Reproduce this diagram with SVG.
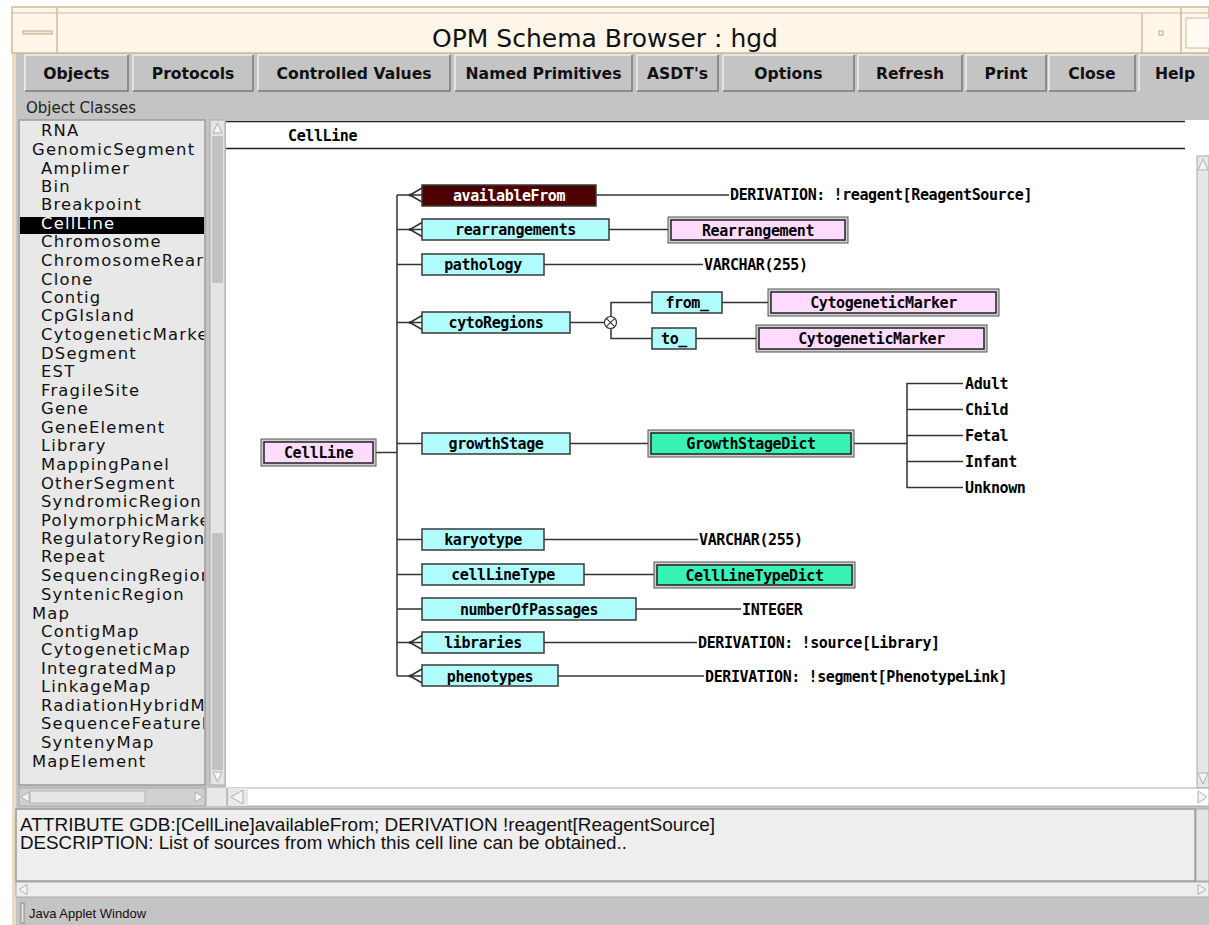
<svg xmlns="http://www.w3.org/2000/svg" width="1209" height="925" viewBox="0 0 1209 925">
<style>
  .ui { font-family: "DejaVu Sans", "Liberation Sans", sans-serif; }
  .btn { font-family: "DejaVu Sans", sans-serif; font-weight: bold; font-size: 15.6px; fill: #111; text-anchor: middle; }
  .list { font-family: "DejaVu Sans", sans-serif; font-size: 16.4px; letter-spacing: 1.2px; fill: #111; }
  .mono { font-family: "DejaVu Sans Mono", "Liberation Mono", monospace; font-weight: bold; font-size: 15px; letter-spacing: -0.4px; fill: #000; }
  .c { text-anchor: middle; }
  .attr { fill: #b0fcfc; stroke: #3a3a3a; stroke-width: 1.5; }
  .frame { fill: #cfcfcf; stroke: #555; stroke-width: 1; }
  .pink { fill: #ffdcff; stroke: #222; stroke-width: 1.5; }
  .green { fill: #38f2b6; stroke: #222; stroke-width: 1.5; }
  .ln { stroke: #333; stroke-width: 1.5; fill: none; }
  .bevel-l { stroke: #f0f0f0; stroke-width: 1.5; fill: none; }
  .bevel-d { stroke: #7a7a7a; stroke-width: 1.5; fill: none; }
  .arrow { fill: #f4f4f4; stroke: #b0b0b0; stroke-width: 1; }
  .desc { font-family: "Liberation Sans", Arial, sans-serif; font-size: 17.5px; fill: #111; }
</style>
<defs>
  <clipPath id="listClip"><rect x="20" y="121" width="184" height="663"/></clipPath>
  <!-- crow's foot (many-valued attribute) drawn from the bus to a box edge -->
  <g id="crow">
    <path d="M0,0 H25 M13,0 L25,-7 M13,0 L25,7" stroke="#333" stroke-width="1.5" fill="none"/>
    <circle cx="13" cy="0" r="1.5" fill="#333"/>
  </g>
  <path id="plain" d="M0,0 H25" stroke="#333" stroke-width="1.5" fill="none"/>
</defs>

<!-- canvas and window body -->
<rect x="0" y="0" width="1209" height="925" fill="#ffffff"/>
<rect x="12" y="7" width="1197" height="918" fill="#c4c4c4"/>
<rect x="12" y="7" width="4" height="918" fill="#eadcc4"/>

<!-- title bar -->
<g id="titlebar">
  <rect x="12" y="7" width="1197" height="46" fill="#fff6e9" stroke="#cbbb9f" stroke-width="1.5"/>
  <line x1="12" y1="13" x2="1209" y2="13" stroke="#cbbb9f" stroke-width="1"/>
  <line x1="57" y1="7" x2="57" y2="53" stroke="#cbbb9f" stroke-width="1.5"/>
  <rect x="23" y="31" width="29" height="3" fill="#f4ead8" stroke="#b8a888" stroke-width="1"/>
  <line x1="1142" y1="13" x2="1142" y2="53" stroke="#cbbb9f" stroke-width="1.5"/>
  <line x1="1181" y1="7" x2="1181" y2="53" stroke="#cbbb9f" stroke-width="1.5"/>
  <rect x="1159" y="31" width="4" height="4" fill="none" stroke="#b8a888" stroke-width="1"/>
  <rect x="1186" y="18" width="30" height="30" fill="#fffaf2" stroke="#cbbb9f" stroke-width="1"/>
  <text x="605" y="47" class="ui" font-size="25" text-anchor="middle" fill="#111">OPM Schema Browser : hgd</text>
</g>

<!-- toolbar buttons -->
<g id="toolbar">
  <g id="btn-objects"><rect x="25" y="55" width="103" height="36" fill="#c4c4c4"/><path class="bevel-l" d="M25,91 V55 H128"/><path class="bevel-d" d="M128,55 V91 H25"/><text x="76.5" y="79" class="btn">Objects</text></g>
  <g id="btn-protocols"><rect x="133" y="55" width="120" height="36" fill="#c4c4c4"/><path class="bevel-l" d="M133,91 V55 H253"/><path class="bevel-d" d="M253,55 V91 H133"/><text x="193" y="79" class="btn">Protocols</text></g>
  <g id="btn-controlled"><rect x="258" y="55" width="192" height="36" fill="#c4c4c4"/><path class="bevel-l" d="M258,91 V55 H450"/><path class="bevel-d" d="M450,55 V91 H258"/><text x="354" y="79" class="btn">Controlled Values</text></g>
  <g id="btn-named"><rect x="455" y="55" width="177" height="36" fill="#c4c4c4"/><path class="bevel-l" d="M455,91 V55 H632"/><path class="bevel-d" d="M632,55 V91 H455"/><text x="543.5" y="79" class="btn">Named Primitives</text></g>
  <g id="btn-asdt"><rect x="637" y="55" width="81" height="36" fill="#c4c4c4"/><path class="bevel-l" d="M637,91 V55 H718"/><path class="bevel-d" d="M718,55 V91 H637"/><text x="677.5" y="79" class="btn">ASDT's</text></g>
  <g id="btn-options"><rect x="723" y="55" width="131" height="36" fill="#c4c4c4"/><path class="bevel-l" d="M723,91 V55 H854"/><path class="bevel-d" d="M854,55 V91 H723"/><text x="788.5" y="79" class="btn">Options</text></g>
  <g id="btn-refresh"><rect x="858" y="55" width="104" height="36" fill="#c4c4c4"/><path class="bevel-l" d="M858,91 V55 H962"/><path class="bevel-d" d="M962,55 V91 H858"/><text x="910" y="79" class="btn">Refresh</text></g>
  <g id="btn-print"><rect x="966" y="55" width="80" height="36" fill="#c4c4c4"/><path class="bevel-l" d="M966,91 V55 H1046"/><path class="bevel-d" d="M1046,55 V91 H966"/><text x="1006" y="79" class="btn">Print</text></g>
  <g id="btn-close"><rect x="1049" y="55" width="86" height="36" fill="#c4c4c4"/><path class="bevel-l" d="M1049,91 V55 H1135"/><path class="bevel-d" d="M1135,55 V91 H1049"/><text x="1092" y="79" class="btn">Close</text></g>
  <g id="btn-help"><rect x="1139" y="55" width="72" height="36" fill="#c4c4c4"/><path class="bevel-l" d="M1139,91 V55 H1211"/><text x="1175" y="79" class="btn">Help</text></g>
</g>

<text x="26" y="113" class="ui" font-size="15" fill="#222">Object Classes</text>

<!-- class list -->
<g id="class-list">
  <rect x="19" y="120" width="186" height="665" fill="#e8e8e8" stroke="#9a9a9a" stroke-width="1.5"/>
  <rect x="20" y="217" width="184" height="17" fill="#000"/>
  <g clip-path="url(#listClip)" class="list">
    <text x="41" y="136">RNA</text>
    <text x="32" y="155">GenomicSegment</text>
    <text x="41" y="174">Amplimer</text>
    <text x="41" y="192">Bin</text>
    <text x="41" y="210">Breakpoint</text>
    <text x="41" y="229" fill="#fff">CellLine</text>
    <text x="41" y="247">Chromosome</text>
    <text x="41" y="266">ChromosomeRearrangement</text>
    <text x="41" y="285">Clone</text>
    <text x="41" y="303">Contig</text>
    <text x="41" y="321">CpGIsland</text>
    <text x="41" y="340">CytogeneticMarker</text>
    <text x="41" y="359">DSegment</text>
    <text x="41" y="377">EST</text>
    <text x="41" y="396">FragileSite</text>
    <text x="41" y="414">Gene</text>
    <text x="41" y="433">GeneElement</text>
    <text x="41" y="451">Library</text>
    <text x="41" y="470">MappingPanel</text>
    <text x="41" y="489">OtherSegment</text>
    <text x="41" y="507">SyndromicRegion</text>
    <text x="41" y="526">PolymorphicMarker</text>
    <text x="41" y="544">RegulatoryRegion</text>
    <text x="41" y="562">Repeat</text>
    <text x="41" y="581">SequencingRegion</text>
    <text x="41" y="600">SyntenicRegion</text>
    <text x="32" y="619">Map</text>
    <text x="41" y="637">ContigMap</text>
    <text x="41" y="655">CytogeneticMap</text>
    <text x="41" y="674">IntegratedMap</text>
    <text x="41" y="692">LinkageMap</text>
    <text x="41" y="711">RadiationHybridMap</text>
    <text x="41" y="729">SequenceFeatureMap</text>
    <text x="41" y="748">SyntenyMap</text>
    <text x="32" y="767">MapElement</text>
  </g>
  <!-- vertical scrollbar -->
  <rect x="210" y="120" width="15" height="665" fill="#e4e4e4" stroke="#a8a8a8" stroke-width="1"/>
  <rect x="212" y="136" width="11" height="147" fill="#c2c2c2"/>
  <rect x="212" y="533" width="11" height="237" fill="#c2c2c2"/>
  <path class="arrow" d="M217.5,123 L222,133 H213 Z"/>
  <path class="arrow" d="M217.5,782 L222,772 H213 Z"/>
  <!-- horizontal scrollbar -->
  <rect x="19" y="788" width="186" height="18" fill="#d0d0d0" stroke="#a8a8a8" stroke-width="1"/>
  <rect x="30" y="791" width="115" height="12" fill="#e6e6e6" stroke="#b4b4b4" stroke-width="1"/>
  <path class="arrow" d="M21,797 L29,792 V802 Z"/>
  <path class="arrow" d="M203,797 L195,792 V802 Z"/>
  <rect x="207" y="788" width="19" height="18" fill="#e8e8e8"/>
</g>

<!-- diagram panel -->
<g id="diagram-panel">
  <rect x="226" y="120" width="983" height="668" fill="#ffffff"/>
  <line x1="226" y1="121.5" x2="1185" y2="121.5" stroke="#222" stroke-width="1.5"/>
  <line x1="226" y1="148.5" x2="1185" y2="148.5" stroke="#222" stroke-width="1.5"/>
  <text x="288" y="141" class="mono">CellLine</text>
  <!-- right scrollbar -->
  <rect x="1197" y="156" width="12" height="632" fill="#e6e6e6" stroke="#a8a8a8" stroke-width="1"/>
  <path class="arrow" d="M1203,159 L1208,170 H1198 Z"/>
  <path class="arrow" d="M1203,784 L1208,773 H1198 Z"/>
  <!-- bottom scrollbar -->
  <rect x="228" y="788" width="981" height="18" fill="#ffffff" stroke="#a8a8a8" stroke-width="1"/>
  <rect x="228" y="788" width="20" height="18" fill="#e8e8e8"/>
  <path class="arrow" d="M231,797 L243,790 V804 Z"/>
  <path class="arrow" d="M1207,797 L1198,791 V803 Z"/>
</g>

<!-- connectors -->
<g id="connectors">
  <path class="ln" d="M397,195 V676"/>
  <path class="ln" d="M376,452.5 H397"/>
  <use href="#crow" x="397" y="195"/>
  <use href="#crow" x="397" y="229.5"/>
  <use href="#plain" x="397" y="264.5"/>
  <use href="#crow" x="397" y="322.5"/>
  <use href="#plain" x="397" y="443.5"/>
  <use href="#plain" x="397" y="539.5"/>
  <use href="#plain" x="397" y="574.5"/>
  <use href="#plain" x="397" y="609"/>
  <use href="#crow" x="397" y="642.5"/>
  <use href="#crow" x="397" y="676"/>
  <path class="ln" d="M596,195 H729"/>
  <path class="ln" d="M609,229.5 H668"/>
  <path class="ln" d="M544,264.5 H703"/>
  <path class="ln" d="M570,322.5 H604"/>
  <path class="ln" d="M652,302.5 H611 V338.5 H652"/>
  <circle cx="610.5" cy="322.5" r="6" fill="#fff" stroke="#333" stroke-width="1.2"/>
  <path d="M606.3,318.3 L614.7,326.7 M614.7,318.3 L606.3,326.7" stroke="#333" stroke-width="1.1"/>
  <path class="ln" d="M722,302.5 H768"/>
  <path class="ln" d="M696,338.5 H756"/>
  <path class="ln" d="M570,443.5 H648"/>
  <path class="ln" d="M854,443.5 H907"/>
  <path class="ln" d="M963,383.5 H907 V487.5 H963 M907,409.5 H963 M907,435.5 H963 M907,461.5 H963"/>
  <path class="ln" d="M544,539.5 H698"/>
  <path class="ln" d="M584,574.5 H654"/>
  <path class="ln" d="M636,609 H741"/>
  <path class="ln" d="M544,642.5 H697"/>
  <path class="ln" d="M558,676 H704"/>
</g>

<!-- entity: the class being browsed -->
<g id="node-CellLine">
  <rect class="frame" x="261" y="439" width="115" height="27"/>
  <rect class="pink" x="264" y="442" width="109" height="21"/>
  <text x="318.5" y="458" class="mono c">CellLine</text>
</g>

<!-- attributes -->
<g id="node-availableFrom">
  <rect x="422" y="185" width="174" height="21" fill="#4d0000" stroke="#3a3a3a" stroke-width="1.5"/>
  <text x="509" y="200.5" class="mono c" style="fill:#fff">availableFrom</text>
</g>
<g id="node-rearrangements">
  <rect class="attr" x="422" y="219" width="187" height="21"/>
  <text x="515.5" y="235" class="mono c">rearrangements</text>
</g>
<g id="node-pathology">
  <rect class="attr" x="422" y="254" width="122" height="21"/>
  <text x="483" y="270" class="mono c">pathology</text>
</g>
<g id="node-cytoRegions">
  <rect class="attr" x="422" y="312" width="148" height="21"/>
  <text x="496" y="328" class="mono c">cytoRegions</text>
</g>
<g id="node-from_">
  <rect class="attr" x="652" y="292" width="70" height="21"/>
  <text x="687" y="308" class="mono c">from_</text>
</g>
<g id="node-to_">
  <rect class="attr" x="652" y="328" width="44" height="21"/>
  <text x="674" y="344" class="mono c">to_</text>
</g>
<g id="node-growthStage">
  <rect class="attr" x="422" y="433" width="148" height="21"/>
  <text x="496" y="449" class="mono c">growthStage</text>
</g>
<g id="node-karyotype">
  <rect class="attr" x="422" y="529" width="122" height="21"/>
  <text x="483" y="545" class="mono c">karyotype</text>
</g>
<g id="node-cellLineType">
  <rect class="attr" x="422" y="564" width="162" height="21"/>
  <text x="503" y="580" class="mono c">cellLineType</text>
</g>
<g id="node-numberOfPassages">
  <rect class="attr" x="422" y="598" width="214" height="22"/>
  <text x="529" y="614.5" class="mono c">numberOfPassages</text>
</g>
<g id="node-libraries">
  <rect class="attr" x="422" y="632" width="122" height="21"/>
  <text x="483" y="648" class="mono c">libraries</text>
</g>
<g id="node-phenotypes">
  <rect class="attr" x="422" y="665" width="136" height="21"/>
  <text x="490" y="681.5" class="mono c">phenotypes</text>
</g>

<!-- referenced classes -->
<g id="node-Rearrangement">
  <rect class="frame" x="668" y="217" width="180" height="26"/>
  <rect class="pink" x="671" y="220" width="174" height="20"/>
  <text x="758" y="235.5" class="mono c">Rearrangement</text>
</g>
<g id="node-CytogeneticMarker-from">
  <rect class="frame" x="768" y="289" width="231" height="27"/>
  <rect class="pink" x="771" y="292" width="225" height="21"/>
  <text x="883.5" y="308" class="mono c">CytogeneticMarker</text>
</g>
<g id="node-CytogeneticMarker-to">
  <rect class="frame" x="756" y="325" width="231" height="27"/>
  <rect class="pink" x="759" y="328" width="225" height="21"/>
  <text x="871.5" y="344" class="mono c">CytogeneticMarker</text>
</g>
<g id="node-GrowthStageDict">
  <rect class="frame" x="648" y="430" width="206" height="27"/>
  <rect class="green" x="651" y="433" width="200" height="21"/>
  <text x="751" y="449" class="mono c">GrowthStageDict</text>
</g>
<g id="node-CellLineTypeDict">
  <rect class="frame" x="654" y="562" width="201" height="26"/>
  <rect class="green" x="657" y="565" width="195" height="20"/>
  <text x="754.5" y="580.5" class="mono c">CellLineTypeDict</text>
</g>

<!-- value labels -->
<g id="values" class="mono">
  <text x="730" y="200">DERIVATION: !reagent[ReagentSource]</text>
  <text x="704" y="270">VARCHAR(255)</text>
  <text x="965" y="389">Adult</text>
  <text x="965" y="415">Child</text>
  <text x="965" y="441">Fetal</text>
  <text x="965" y="467">Infant</text>
  <text x="965" y="493">Unknown</text>
  <text x="699" y="545">VARCHAR(255)</text>
  <text x="742" y="614.5">INTEGER</text>
  <text x="698" y="648">DERIVATION: !source[Library]</text>
  <text x="705" y="681.5">DERIVATION: !segment[PhenotypeLink]</text>
</g>

<!-- description panel -->
<g id="description">
  <rect x="16" y="809" width="1179" height="72" fill="#eeeeee" stroke="#9a9a9a" stroke-width="1.5"/>
  <text x="20" y="831" class="desc" textLength="695" lengthAdjust="spacingAndGlyphs">ATTRIBUTE GDB:[CellLine]availableFrom; DERIVATION !reagent[ReagentSource]</text>
  <text x="20" y="849" class="desc" textLength="607" lengthAdjust="spacingAndGlyphs">DESCRIPTION: List of sources from which this cell line can be obtained..</text>
  <rect x="1196" y="809" width="13" height="72" fill="#e4e4e4" stroke="#a8a8a8" stroke-width="1"/>
  <rect x="16" y="882" width="1193" height="15" fill="#eeeeee" stroke="#a8a8a8" stroke-width="1"/>
  <path class="arrow" d="M19,889.5 L27,884.5 V894.5 Z"/>
  <path class="arrow" d="M1206,889.5 L1198,884.5 V894.5 Z"/>
</g>

<!-- status bar -->
<g id="statusbar">
  <rect x="16" y="898" width="1193" height="27" fill="#c4c4c4"/>
  <rect x="21" y="903" width="3" height="20" fill="#e8e8e8" stroke="#7a7a7a" stroke-width="0.8"/>
  <text x="29" y="918" font-family="Liberation Sans, Arial, sans-serif" font-size="13" fill="#111">Java Applet Window</text>
</g>
</svg>
